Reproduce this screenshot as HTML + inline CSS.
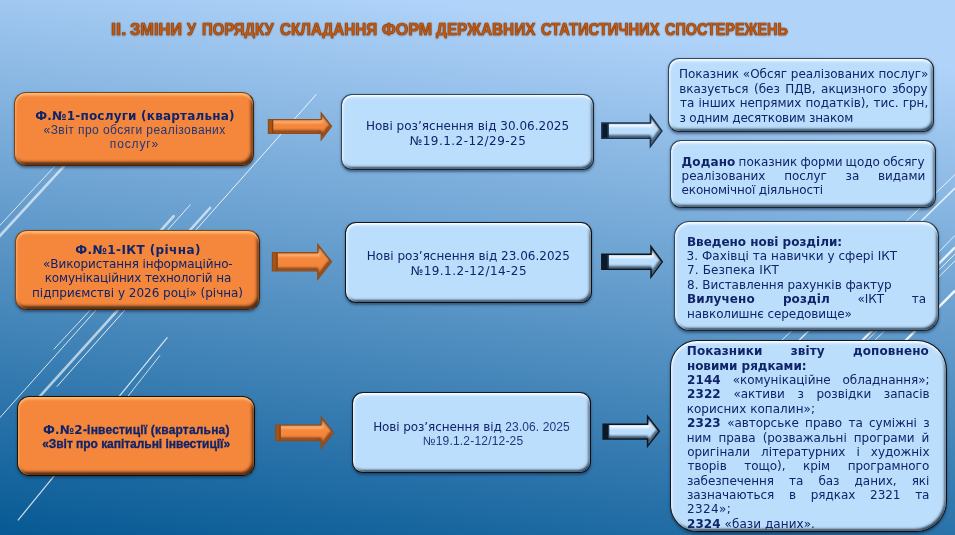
<!DOCTYPE html><html lang="uk"><head><meta charset="utf-8"><title>Зміни у порядку складання форм</title><style>
html,body{margin:0;padding:0;background:#2a6ca6;}
#slide{position:relative;width:955px;height:535px;overflow:hidden;
 background:linear-gradient(187.3deg,#b0d3fa 0%,#b0d3fa 10.2%,#065994 100%);}
#bg{position:absolute;left:0;top:0;}
.ln{position:absolute;white-space:nowrap;line-height:14px;transform-origin:0 50%;}
.ttl{-webkit-text-stroke:0.7px #95460f;text-shadow:0 0 1.5px rgba(110,50,10,.85),0 1px 2px rgba(90,40,0,.3);}
.box{position:absolute;box-sizing:border-box;}
.ob{background:#f5873d;border:1.2px solid #7a461b;
 box-shadow:inset 0 2.5px 2px rgba(255,188,115,.9),inset 1.5px 0 1.5px rgba(255,180,110,.45),inset -2px -3px 3px rgba(50,25,8,.85),0 1.5px 2.5px rgba(20,35,60,.5);}
.bb{background:#bcdefd;border:1.7px solid #2a4862;border-width:1.7px 1.6px 1.6px 1.7px;
 box-shadow:inset 0 2px 2.5px rgba(255,255,255,.95),inset 1.5px 0 2px rgba(255,255,255,.55),inset -1.5px -2px 2.5px rgba(10,28,45,.85),0 1.5px 2.5px rgba(15,30,55,.5);}
#txt{position:absolute;left:0;top:0;width:955px;height:535px;will-change:transform;}

</style></head><body><div id="slide">
<svg id="bg" width="955" height="535" viewBox="0 0 955 535">
<g stroke="#ffffff" stroke-linecap="butt" fill="none">
 <path d="M-2 227.4 L54.7 166.3 L80 139" stroke-width="1" stroke-opacity=".75"/>
 <path d="M-2 237.9 L63.8 166.3 L88 140" stroke-width="2.6" stroke-opacity=".62" stroke-linecap="round"/>
 <path d="M173.7 216.2 L158 233.6" stroke-width="2.6" stroke-opacity=".62" stroke-linecap="round"/>
 <path d="M95 305 L53.8 349.3" stroke-width="1" stroke-opacity=".75"/>
 <path d="M190.5 204.5 L-2 419.7" stroke-width="1" stroke-opacity=".8"/>
 <path d="M210 208 L36 400.6" stroke-width="2.6" stroke-opacity=".62" stroke-linecap="round"/>
 <path d="M316.4 94.3 L56.8 386.7" stroke-width="1" stroke-opacity=".85"/>
 <path d="M167.4 337.4 L17.9 520.3" stroke-width="1.2" stroke-opacity=".8"/>
 <path d="M160 355.3 L125 400" stroke-width="1" stroke-opacity=".75"/>
 <path d="M955 174.6 L776.8 345" stroke-width="1" stroke-opacity=".8"/>
 <path d="M955 188.1 L794.2 345" stroke-width="1.5" stroke-opacity=".78"/>
 <path d="M955 235.4 L900 292" stroke-width="1" stroke-opacity=".8"/>
 <path d="M955 247.4 L857.7 345" stroke-width="2.3" stroke-opacity=".85"/>
 <path d="M955 254.1 L862.3 345" stroke-width="1" stroke-opacity=".8"/>
 <path d="M955 260.8 L870.2 345" stroke-width="1" stroke-opacity=".8"/>
 <path d="M955 290.7 L901.2 345" stroke-width="2.4" stroke-opacity=".9"/>
</g>
</svg>
<div class="box ob" style="left:14.1px;top:91.7px;width:239.9px;height:74.3px;border-radius:12px;border-color:#7a461b #41230d #41230d #7a461b"></div>
<div class="box ob" style="left:15.2px;top:230.4px;width:244.5px;height:80.0px;border-radius:12px;border-color:#7a461b #41230d #41230d #7a461b"></div>
<div class="box ob" style="left:17.4px;top:396.0px;width:237.4px;height:80.3px;border-radius:12.5px;border-color:#1c1208 #120a04 #120a04 #1c1208"></div>
<div class="box bb" style="left:341.2px;top:94.2px;width:252.4px;height:75.4px;border-radius:11px;border-color:#2a4862 #12263a #12263a #2a4862"></div>
<div class="box bb" style="left:344.7px;top:222.1px;width:247.0px;height:81.1px;border-radius:11px;border-color:#0d1822 #070e16 #070e16 #0d1822;border-width:1.5px"></div>
<div class="box bb" style="left:351.7px;top:391.8px;width:239.8px;height:81.2px;border-radius:11px;border-color:#0d1822 #070e16 #070e16 #0d1822;border-width:1.5px"></div>
<div class="box bb" style="left:668.0px;top:57.9px;width:265.6px;height:74.4px;border-radius:11px;border-color:#2a4862 #12263a #12263a #2a4862"></div>
<div class="box bb" style="left:669.8px;top:140.4px;width:266.3px;height:67.8px;border-radius:11px;border-color:#2a4862 #12263a #12263a #2a4862"></div>
<div class="box bb" style="left:673.7px;top:221.4px;width:265.7px;height:109.5px;border-radius:15.5px;border-color:#2a4862 #12263a #12263a #2a4862"></div>
<div class="box bb" style="left:670.0px;top:340.2px;width:276.8px;height:192.2px;border-radius:27px 30px 31px 27px;border-color:#0d1822 #070e16 #070e16 #0d1822;border-width:1.5px"></div>
<svg id="ar" width="955" height="535" viewBox="0 0 955 535" style="position:absolute;left:0;top:0">
<defs><filter id="b1" x="-20%" y="-40%" width="140%" height="180%"><feGaussianBlur stdDeviation="0.8"/></filter></defs>
<clipPath id="co0"><path d="M268.4 119.5 L321.2 119.5 L321.2 113.0 L331.6 126.35 L321.2 139.7 L321.2 133.3 L268.4 133.3 Z"/></clipPath><g clip-path="url(#co0)"><path d="M268.4 119.5 L321.2 119.5 L321.2 113.0 L331.6 126.35 L321.2 139.7 L321.2 133.3 L268.4 133.3 Z" fill="#f5873d"/><path d="M268.4 119.5 L321.2 119.5 L321.2 113.0 L331.6 126.35 L321.2 139.7 L321.2 133.3 L268.4 133.3 Z" fill="none" stroke="#ffbd82" stroke-opacity="0.9" stroke-width="2.6" filter="url(#b1)" transform="translate(0.6,2.2)"/><path d="M268.4 119.5 L321.2 119.5 L321.2 113.0 L331.6 126.35 L321.2 139.7 L321.2 133.3 L268.4 133.3 Z" fill="none" stroke="#6a3410" stroke-opacity="0.85" stroke-width="3" filter="url(#b1)" transform="translate(-0.8,-1.6)"/><rect x="268.4" y="119.5" width="4.8" height="13.800000000000011" fill="#a4541a"/><rect x="272.1" y="119.5" width="1.1" height="13.800000000000011" fill="#7d3f12"/></g><path d="M268.4 119.5 L321.2 119.5 L321.2 113.0 L331.6 126.35 L321.2 139.7 L321.2 133.3 L268.4 133.3 Z" fill="none" stroke="#8f4b18" stroke-width="1.2" stroke-linejoin="miter"/>
<clipPath id="co1"><path d="M272.4 252.7 L317.8 252.7 L317.8 244.5 L331.6 261.85 L317.8 279.2 L317.8 270.8 L272.4 270.8 Z"/></clipPath><g clip-path="url(#co1)"><path d="M272.4 252.7 L317.8 252.7 L317.8 244.5 L331.6 261.85 L317.8 279.2 L317.8 270.8 L272.4 270.8 Z" fill="#f5873d"/><path d="M272.4 252.7 L317.8 252.7 L317.8 244.5 L331.6 261.85 L317.8 279.2 L317.8 270.8 L272.4 270.8 Z" fill="none" stroke="#ffbd82" stroke-opacity="0.9" stroke-width="2.6" filter="url(#b1)" transform="translate(0.6,2.2)"/><path d="M272.4 252.7 L317.8 252.7 L317.8 244.5 L331.6 261.85 L317.8 279.2 L317.8 270.8 L272.4 270.8 Z" fill="none" stroke="#6a3410" stroke-opacity="0.85" stroke-width="3" filter="url(#b1)" transform="translate(-0.8,-1.6)"/><rect x="272.4" y="252.7" width="5.2" height="18.100000000000023" fill="#a4541a"/><rect x="276.5" y="252.7" width="1.1" height="18.100000000000023" fill="#7d3f12"/></g><path d="M272.4 252.7 L317.8 252.7 L317.8 244.5 L331.6 261.85 L317.8 279.2 L317.8 270.8 L272.4 270.8 Z" fill="none" stroke="#8f4b18" stroke-width="1.2" stroke-linejoin="miter"/>
<clipPath id="co2"><path d="M275.8 425.0 L321.2 425.0 L321.2 417.1 L333.5 432.65 L321.2 448.2 L321.2 440.6 L275.8 440.6 Z"/></clipPath><g clip-path="url(#co2)"><path d="M275.8 425.0 L321.2 425.0 L321.2 417.1 L333.5 432.65 L321.2 448.2 L321.2 440.6 L275.8 440.6 Z" fill="#f5873d"/><path d="M275.8 425.0 L321.2 425.0 L321.2 417.1 L333.5 432.65 L321.2 448.2 L321.2 440.6 L275.8 440.6 Z" fill="none" stroke="#ffbd82" stroke-opacity="0.9" stroke-width="2.6" filter="url(#b1)" transform="translate(0.6,2.2)"/><path d="M275.8 425.0 L321.2 425.0 L321.2 417.1 L333.5 432.65 L321.2 448.2 L321.2 440.6 L275.8 440.6 Z" fill="none" stroke="#6a3410" stroke-opacity="0.85" stroke-width="3" filter="url(#b1)" transform="translate(-0.8,-1.6)"/><rect x="275.8" y="425.0" width="4.8" height="15.600000000000023" fill="#a4541a"/><rect x="279.5" y="425.0" width="1.1" height="15.600000000000023" fill="#7d3f12"/></g><path d="M275.8 425.0 L321.2 425.0 L321.2 417.1 L333.5 432.65 L321.2 448.2 L321.2 440.6 L275.8 440.6 Z" fill="none" stroke="#8f4b18" stroke-width="1.2" stroke-linejoin="miter"/>
<clipPath id="cb0"><path d="M601.85 123.05 L650.4 123.05 L650.4 115.4 L661.9 130.95 L650.4 146.5 L650.4 138.35 L601.85 138.35 Z"/></clipPath><g clip-path="url(#cb0)"><path d="M601.85 123.05 L650.4 123.05 L650.4 115.4 L661.9 130.95 L650.4 146.5 L650.4 138.35 L601.85 138.35 Z" fill="#bcdefd"/><path d="M601.85 123.05 L650.4 123.05 L650.4 115.4 L661.9 130.95 L650.4 146.5 L650.4 138.35 L601.85 138.35 Z" fill="none" stroke="#ffffff" stroke-opacity="1" stroke-width="2.6" filter="url(#b1)" transform="translate(0.6,2.2)"/><path d="M601.85 123.05 L650.4 123.05 L650.4 115.4 L661.9 130.95 L650.4 146.5 L650.4 138.35 L601.85 138.35 Z" fill="none" stroke="#10263a" stroke-opacity="0.8" stroke-width="3" filter="url(#b1)" transform="translate(-0.8,-1.6)"/><rect x="601.85" y="123.05" width="6.8" height="15.299999999999997" fill="#0a1a2b"/><rect x="607.5" y="123.05" width="1.1" height="15.299999999999997" fill="#2a3f55"/></g><path d="M601.85 123.05 L650.4 123.05 L650.4 115.4 L661.9 130.95 L650.4 146.5 L650.4 138.35 L601.85 138.35 Z" fill="none" stroke="#1a334c" stroke-width="1.5" stroke-linejoin="miter"/>
<clipPath id="cb1"><path d="M601.85 254.35 L651.0 254.35 L651.0 246.6 L662.3 261.85 L651.0 277.1 L651.0 269.35 L601.85 269.35 Z"/></clipPath><g clip-path="url(#cb1)"><path d="M601.85 254.35 L651.0 254.35 L651.0 246.6 L662.3 261.85 L651.0 277.1 L651.0 269.35 L601.85 269.35 Z" fill="#bcdefd"/><path d="M601.85 254.35 L651.0 254.35 L651.0 246.6 L662.3 261.85 L651.0 277.1 L651.0 269.35 L601.85 269.35 Z" fill="none" stroke="#ffffff" stroke-opacity="1" stroke-width="2.6" filter="url(#b1)" transform="translate(0.6,2.2)"/><path d="M601.85 254.35 L651.0 254.35 L651.0 246.6 L662.3 261.85 L651.0 277.1 L651.0 269.35 L601.85 269.35 Z" fill="none" stroke="#10263a" stroke-opacity="0.8" stroke-width="3" filter="url(#b1)" transform="translate(-0.8,-1.6)"/><rect x="601.85" y="254.35" width="6.8" height="15.000000000000028" fill="#0a1a2b"/><rect x="607.5" y="254.35" width="1.1" height="15.000000000000028" fill="#2a3f55"/></g><path d="M601.85 254.35 L651.0 254.35 L651.0 246.6 L662.3 261.85 L651.0 277.1 L651.0 269.35 L601.85 269.35 Z" fill="none" stroke="#0c1620" stroke-width="1.5" stroke-linejoin="miter"/>
<clipPath id="cb2"><path d="M603.15 424.15 L647.6 424.15 L647.6 416.4 L659.3 431.25 L647.6 446.1 L647.6 439.05 L603.15 439.05 Z"/></clipPath><g clip-path="url(#cb2)"><path d="M603.15 424.15 L647.6 424.15 L647.6 416.4 L659.3 431.25 L647.6 446.1 L647.6 439.05 L603.15 439.05 Z" fill="#bcdefd"/><path d="M603.15 424.15 L647.6 424.15 L647.6 416.4 L659.3 431.25 L647.6 446.1 L647.6 439.05 L603.15 439.05 Z" fill="none" stroke="#ffffff" stroke-opacity="1" stroke-width="2.6" filter="url(#b1)" transform="translate(0.6,2.2)"/><path d="M603.15 424.15 L647.6 424.15 L647.6 416.4 L659.3 431.25 L647.6 446.1 L647.6 439.05 L603.15 439.05 Z" fill="none" stroke="#10263a" stroke-opacity="0.8" stroke-width="3" filter="url(#b1)" transform="translate(-0.8,-1.6)"/><rect x="603.15" y="424.15" width="6.0" height="14.900000000000034" fill="#0a1a2b"/><rect x="608.0" y="424.15" width="1.1" height="14.900000000000034" fill="#2a3f55"/></g><path d="M603.15 424.15 L647.6 424.15 L647.6 416.4 L659.3 431.25 L647.6 446.1 L647.6 439.05 L603.15 439.05 Z" fill="none" stroke="#0c1620" stroke-width="1.5" stroke-linejoin="miter"/>
</svg>
<div id="txt">
<div id="l0" class="ln" style="left:35.17px;top:109.00px;font-family:'DejaVu Sans', 'Liberation Sans', sans-serif;font-weight:bold;font-size:12px;color:#10246a;letter-spacing:0.201px;">Ф.№1-послуги (квартальна)</div>
<div id="l1" class="ln" style="left:43.55px;top:123.00px;font-family:'Liberation Sans', 'DejaVu Sans', sans-serif;font-weight:normal;font-size:12px;color:#22367a;letter-spacing:0.443px;">«Звіт про обсяги реалізованих</div>
<div id="l2" class="ln" style="left:109.86px;top:137.00px;font-family:'Liberation Sans', 'DejaVu Sans', sans-serif;font-weight:normal;font-size:12px;color:#22367a;letter-spacing:0.848px;">послуг»</div>
<div id="l3" class="ln" style="left:75.21px;top:243.00px;font-family:'DejaVu Sans', 'Liberation Sans', sans-serif;font-weight:bold;font-size:12px;color:#10246a;letter-spacing:0.405px;">Ф.№1-ІКТ (річна)</div>
<div id="l4" class="ln" style="left:43.11px;top:257.00px;font-family:'DejaVu Sans', 'Liberation Sans', sans-serif;font-weight:normal;font-size:12px;color:#10246a;letter-spacing:-0.119px;">«Використання інформаційно-</div>
<div id="l5" class="ln" style="left:44.72px;top:271.00px;font-family:'DejaVu Sans', 'Liberation Sans', sans-serif;font-weight:normal;font-size:12px;color:#10246a;letter-spacing:-0.148px;">комунікаційних технологій на</div>
<div id="l6" class="ln" style="left:32.06px;top:286.00px;font-family:'DejaVu Sans', 'Liberation Sans', sans-serif;font-weight:normal;font-size:12px;color:#10246a;letter-spacing:-0.021px;">підприємстві у 2026 році» (річна)</div>
<div id="l7" class="ln" style="left:42.91px;top:423.00px;font-family:'Liberation Sans', 'DejaVu Sans', sans-serif;font-weight:bold;font-size:12px;color:#10246a;letter-spacing:0.189px;-webkit-text-stroke:0.3px #10246a;"><span style="font-family:'DejaVu Sans', 'Liberation Sans', sans-serif;-webkit-text-stroke:0">Ф.№2</span>-інвестиції (квартальна)</div>
<div id="l8" class="ln" style="left:42.17px;top:437.00px;font-family:'Liberation Sans', 'DejaVu Sans', sans-serif;font-weight:bold;font-size:12px;color:#10246a;letter-spacing:-0.038px;-webkit-text-stroke:0.3px #10246a;">«Звіт про капітальні інвестиції»</div>
<div id="l9" class="ln" style="left:365.92px;top:119.00px;font-family:'DejaVu Sans', 'Liberation Sans', sans-serif;font-weight:normal;font-size:12px;color:#10246a;letter-spacing:0.016px;">Нові роз’яснення від 30.06.2025</div>
<div id="l10" class="ln" style="left:409.82px;top:134.00px;font-family:'DejaVu Sans', 'Liberation Sans', sans-serif;font-weight:normal;font-size:12px;color:#10246a;letter-spacing:0.454px;">№19.1.2-12/29-25</div>
<div id="l11" class="ln" style="left:366.81px;top:249.00px;font-family:'DejaVu Sans', 'Liberation Sans', sans-serif;font-weight:normal;font-size:12px;color:#10246a;letter-spacing:0.011px;">Нові роз’яснення від 23.06.2025</div>
<div id="l12" class="ln" style="left:410.76px;top:264.00px;font-family:'DejaVu Sans', 'Liberation Sans', sans-serif;font-weight:normal;font-size:12px;color:#10246a;letter-spacing:0.441px;">№19.1.2-12/14-25</div>
<div id="l13" class="ln" style="left:373.13px;top:420.00px;font-family:'DejaVu Sans', 'Liberation Sans', sans-serif;font-weight:normal;font-size:12px;color:#10246a;letter-spacing:-0.087px;">Нові роз’яснення від <span style="font-family:'Liberation Sans', 'DejaVu Sans', sans-serif;letter-spacing:0.1px;color:#22367a">23.06. 2025</span></div>
<div id="l14" class="ln" style="left:422.70px;top:434.00px;font-family:'Liberation Sans', 'DejaVu Sans', sans-serif;font-weight:normal;font-size:12px;color:#22367a;letter-spacing:0.187px;">№19.1.2-12/12-25</div>
<div id="l15" class="ln" style="left:679.00px;top:67.00px;font-family:'DejaVu Sans', 'Liberation Sans', sans-serif;font-weight:normal;font-size:12px;color:#10246a;letter-spacing:-0.040px;word-spacing:0.132px;">Показник «Обсяг реалізованих послуг»</div>
<div id="l16" class="ln" style="left:679.31px;top:82.00px;font-family:'DejaVu Sans', 'Liberation Sans', sans-serif;font-weight:normal;font-size:12px;color:#10246a;letter-spacing:-0.040px;word-spacing:1.753px;">вказується (без ПДВ, акцизного збору</div>
<div id="l17" class="ln" style="left:680.01px;top:96.00px;font-family:'DejaVu Sans', 'Liberation Sans', sans-serif;font-weight:normal;font-size:12px;color:#10246a;letter-spacing:-0.040px;word-spacing:0.523px;">та інших непрямих податків), тис. грн,</div>
<div id="l18" class="ln" style="left:679.55px;top:111.00px;font-family:'DejaVu Sans', 'Liberation Sans', sans-serif;font-weight:normal;font-size:12px;color:#10246a;letter-spacing:-0.195px;">з одним десятковим знаком</div>
<div id="l19" class="ln" style="left:681.52px;top:155.00px;font-family:'DejaVu Sans', 'Liberation Sans', sans-serif;font-weight:normal;font-size:12px;color:#10246a;letter-spacing:-0.040px;word-spacing:-0.566px;"><b style="letter-spacing:.1px">Додано</b> показник форми щодо обсягу</div>
<div id="l20" class="ln" style="left:681.60px;top:169.00px;font-family:'DejaVu Sans', 'Liberation Sans', sans-serif;font-weight:normal;font-size:12px;color:#10246a;letter-spacing:-0.040px;word-spacing:15.027px;">реалізованих послуг за видами</div>
<div id="l21" class="ln" style="left:681.55px;top:183.00px;font-family:'DejaVu Sans', 'Liberation Sans', sans-serif;font-weight:normal;font-size:12px;color:#10246a;letter-spacing:-0.148px;">економічної діяльності</div>
<div id="l22" class="ln" style="left:686.98px;top:235.00px;font-family:'DejaVu Sans', 'Liberation Sans', sans-serif;font-weight:bold;font-size:12px;color:#10246a;letter-spacing:-0.016px;">Введено нові розділи:</div>
<div id="l23" class="ln" style="left:686.61px;top:249.00px;font-family:'DejaVu Sans', 'Liberation Sans', sans-serif;font-weight:normal;font-size:12px;color:#10246a;letter-spacing:0.041px;">3. Фахівці та навички у сфері ІКТ</div>
<div id="l24" class="ln" style="left:686.99px;top:263.00px;font-family:'DejaVu Sans', 'Liberation Sans', sans-serif;font-weight:normal;font-size:12px;color:#10246a;letter-spacing:0.128px;">7. Безпека ІКТ</div>
<div id="l25" class="ln" style="left:687.12px;top:278.00px;font-family:'DejaVu Sans', 'Liberation Sans', sans-serif;font-weight:normal;font-size:12px;color:#10246a;letter-spacing:-0.053px;">8. Виставлення рахунків фактур</div>
<div id="l26" class="ln" style="left:686.98px;top:292.00px;font-family:'DejaVu Sans', 'Liberation Sans', sans-serif;font-weight:normal;font-size:12px;color:#10246a;letter-spacing:-0.040px;word-spacing:23.810px;"><b style="letter-spacing:.1px">Вилучено розділ</b> «ІКТ та</div>
<div id="l27" class="ln" style="left:687.06px;top:307.00px;font-family:'DejaVu Sans', 'Liberation Sans', sans-serif;font-weight:normal;font-size:12px;color:#10246a;letter-spacing:-0.110px;">навколишнє середовище»</div>
<div id="l28" class="ln" style="left:686.87px;top:344.00px;font-family:'DejaVu Sans', 'Liberation Sans', sans-serif;font-weight:normal;font-size:12px;color:#10246a;letter-spacing:-0.040px;word-spacing:23.973px;"><b style="letter-spacing:.1px">Показники звіту доповнено</b></div>
<div id="l29" class="ln" style="left:686.92px;top:359.00px;font-family:'DejaVu Sans', 'Liberation Sans', sans-serif;font-weight:normal;font-size:12px;color:#10246a;letter-spacing:-0.037px;"><b>новими рядками:</b></div>
<div id="l30" class="ln" style="left:687.00px;top:373.00px;font-family:'DejaVu Sans', 'Liberation Sans', sans-serif;font-weight:normal;font-size:12px;color:#10246a;letter-spacing:-0.040px;word-spacing:8.148px;"><b style="letter-spacing:.1px">2144</b> «комунікаційне обладнання»;</div>
<div id="l31" class="ln" style="left:687.00px;top:387.00px;font-family:'DejaVu Sans', 'Liberation Sans', sans-serif;font-weight:normal;font-size:12px;color:#10246a;letter-spacing:-0.040px;word-spacing:8.874px;"><b style="letter-spacing:.1px">2322</b> «активи з розвідки запасів</div>
<div id="l32" class="ln" style="left:686.72px;top:402.00px;font-family:'DejaVu Sans', 'Liberation Sans', sans-serif;font-weight:normal;font-size:12px;color:#10246a;letter-spacing:0.033px;">корисних копалин»;</div>
<div id="l33" class="ln" style="left:687.00px;top:416.00px;font-family:'DejaVu Sans', 'Liberation Sans', sans-serif;font-weight:normal;font-size:12px;color:#10246a;letter-spacing:-0.040px;word-spacing:2.552px;"><b style="letter-spacing:.1px">2323</b> «авторське право та суміжні з</div>
<div id="l34" class="ln" style="left:686.78px;top:431.00px;font-family:'DejaVu Sans', 'Liberation Sans', sans-serif;font-weight:normal;font-size:12px;color:#10246a;letter-spacing:-0.040px;word-spacing:3.348px;">ним права (розважальні програми й</div>
<div id="l35" class="ln" style="left:687.20px;top:445.00px;font-family:'DejaVu Sans', 'Liberation Sans', sans-serif;font-weight:normal;font-size:12px;color:#10246a;letter-spacing:-0.040px;word-spacing:7.334px;">оригінали літературних і художніх</div>
<div id="l36" class="ln" style="left:687.50px;top:459.00px;font-family:'DejaVu Sans', 'Liberation Sans', sans-serif;font-weight:normal;font-size:12px;color:#10246a;letter-spacing:-0.040px;word-spacing:13.772px;">творів тощо), крім програмного</div>
<div id="l37" class="ln" style="left:686.92px;top:474.00px;font-family:'DejaVu Sans', 'Liberation Sans', sans-serif;font-weight:normal;font-size:12px;color:#10246a;letter-spacing:-0.040px;word-spacing:11.348px;">забезпечення та баз даних, які</div>
<div id="l38" class="ln" style="left:686.92px;top:488.00px;font-family:'DejaVu Sans', 'Liberation Sans', sans-serif;font-weight:normal;font-size:12px;color:#10246a;letter-spacing:-0.040px;word-spacing:10.972px;">зазначаються в рядках 2321 та</div>
<div id="l39" class="ln" style="left:687.00px;top:502.00px;font-family:'DejaVu Sans', 'Liberation Sans', sans-serif;font-weight:normal;font-size:12px;color:#10246a;letter-spacing:0.386px;">2324»;</div>
<div id="l40" class="ln" style="left:687.00px;top:517.00px;font-family:'DejaVu Sans', 'Liberation Sans', sans-serif;font-weight:normal;font-size:12px;color:#10246a;letter-spacing:0.063px;"><b>2324</b> «бази даних».</div>
<div id="l41" class="ln ttl" style="left:110.71px;top:23.00px;font-family:'Liberation Sans', 'DejaVu Sans', sans-serif;font-weight:bold;font-size:15.7px;color:#c45b16;transform:scaleX(1.1639);">ІІ.</div>
<div id="l42" class="ln ttl" style="left:129.59px;top:23.00px;font-family:'Liberation Sans', 'DejaVu Sans', sans-serif;font-weight:bold;font-size:15.7px;color:#c45b16;transform:scaleX(1.0445);">ЗМІНИ</div>
<div id="l43" class="ln ttl" style="left:187.25px;top:23.00px;font-family:'Liberation Sans', 'DejaVu Sans', sans-serif;font-weight:bold;font-size:15.7px;color:#c45b16;transform:scaleX(0.9170);">У</div>
<div id="l44" class="ln ttl" style="left:201.50px;top:23.00px;font-family:'Liberation Sans', 'DejaVu Sans', sans-serif;font-weight:bold;font-size:15.7px;color:#c45b16;transform:scaleX(0.9457);">ПОРЯДКУ</div>
<div id="l45" class="ln ttl" style="left:280.03px;top:23.00px;font-family:'Liberation Sans', 'DejaVu Sans', sans-serif;font-weight:bold;font-size:15.7px;color:#c45b16;transform:scaleX(0.9682);">СКЛАДАННЯ</div>
<div id="l46" class="ln ttl" style="left:382.25px;top:23.00px;font-family:'Liberation Sans', 'DejaVu Sans', sans-serif;font-weight:bold;font-size:15.7px;color:#c45b16;transform:scaleX(1.0244);">ФОРМ</div>
<div id="l47" class="ln ttl" style="left:436.25px;top:23.00px;font-family:'Liberation Sans', 'DejaVu Sans', sans-serif;font-weight:bold;font-size:15.7px;color:#c45b16;transform:scaleX(0.9761);">ДЕРЖАВНИХ</div>
<div id="l48" class="ln ttl" style="left:540.55px;top:23.00px;font-family:'Liberation Sans', 'DejaVu Sans', sans-serif;font-weight:bold;font-size:15.7px;color:#c45b16;transform:scaleX(0.9337);">СТАТИСТИЧНИХ</div>
<div id="l49" class="ln ttl" style="left:665.06px;top:23.00px;font-family:'Liberation Sans', 'DejaVu Sans', sans-serif;font-weight:bold;font-size:15.7px;color:#c45b16;transform:scaleX(0.9164);">СПОСТЕРЕЖЕНЬ</div>
</div></div></body></html>
